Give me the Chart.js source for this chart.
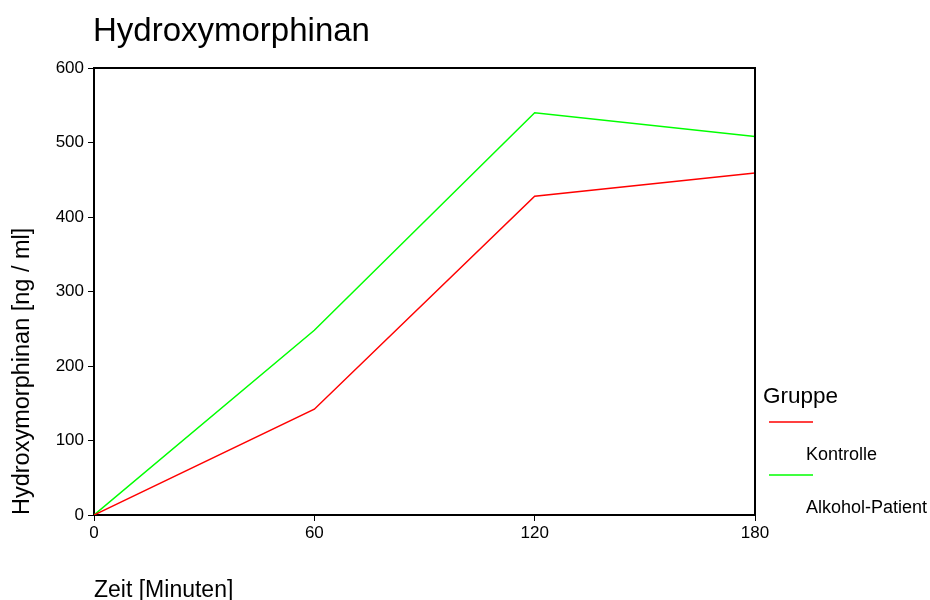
<!DOCTYPE html>
<html>
<head>
<meta charset="utf-8">
<script src="https://cdn.jsdelivr.net/npm/chart.js@4/dist/chart.umd.min.js"></script>
<style>
html,body{margin:0;padding:0;background:#fff;}
#wrap{width:930px;height:600px;}
</style>
</head>
<body>
<div id="wrap"><canvas id="c" width="930" height="600"></canvas></div>
<script>
const chartTitle = 'Hydroxymorphinan';
const xTitle = 'Zeit [Minuten]';
const yTitle = 'Hydroxymorphinan [ng / ml]';
const legendTitle = 'Gruppe';
const times = [0, 60, 120, 180];
const kontrolle = [0, 142, 428, 459];
const alkohol = [0, 248, 540, 508];
const seriesNames = ['Kontrolle', 'Alkohol-Patient'];
const seriesColors = ['#ff0000', '#00ff00'];

const FONT = '"Liberation Sans", Arial, sans-serif';

const toPts = (vals) => times.map((t, i) => ({x: t, y: vals[i]}));

const decor = {
  id: 'decor',
  afterDraw(chart) {
    const ctx = chart.ctx;
    const a = chart.chartArea;
    ctx.save();
    // frame top and right
    ctx.strokeStyle = '#000';
    ctx.lineWidth = 2;
    ctx.beginPath();
    ctx.moveTo(a.left, a.top);
    ctx.lineTo(a.right, a.top);
    ctx.lineTo(a.right, a.bottom);
    ctx.stroke();
    // title
    ctx.fillStyle = '#000';
    ctx.textBaseline = 'alphabetic';
    ctx.textAlign = 'left';
    ctx.font = '33px ' + FONT;
    ctx.fillText(chartTitle, a.left - 1, 41);
    // legend
    ctx.font = '22.5px ' + FONT;
    ctx.textBaseline = 'middle';
    ctx.fillText(legendTitle, 763, 397);
    ctx.font = '18px ' + FONT;
    chart.data.datasets.forEach((ds, i) => {
      const ly = 422 + i * 53;
      ctx.strokeStyle = ds.borderColor;
      ctx.lineWidth = 1.5;
      ctx.beginPath();
      ctx.moveTo(769, ly);
      ctx.lineTo(813, ly);
      ctx.stroke();
      ctx.fillStyle = '#000';
      ctx.fillText(ds.label, 806, ly + 33);
    });
    ctx.restore();
  }
};

new Chart(document.getElementById('c'), {
  type: 'line',
  data: {
    datasets: [
      {label: seriesNames[0], data: toPts(kontrolle), borderColor: seriesColors[0], backgroundColor: seriesColors[0], borderWidth: 1.5, pointRadius: 0, tension: 0, fill: false},
      {label: seriesNames[1], data: toPts(alkohol), borderColor: seriesColors[1], backgroundColor: seriesColors[1], borderWidth: 1.5, pointRadius: 0, tension: 0, fill: false}
    ]
  },
  options: {
    responsive: false,
    animation: false,
    layout: {padding: {left: 0, top: 68, right: 175, bottom: -4}},
    plugins: {legend: {display: false}, title: {display: false}, tooltip: {enabled: false}},
    scales: {
      x: {
        type: 'linear', min: 0, max: 180,
        afterFit(s) { s.height = 89; },
        ticks: {stepSize: 60, color: '#000', font: {family: FONT, size: 17}, padding: 2, maxRotation: 0},
        grid: {display: true, drawOnChartArea: false, drawTicks: true, tickLength: 6, color: '#000', lineWidth: 1},
        border: {display: true, color: '#000', width: 2},
        title: {display: true, text: xTitle, align: 'start', color: '#000', font: {family: FONT, size: 23}, padding: {top: 0, bottom: 0}}
      },
      y: {
        min: 0, max: 600,
        afterFit(s) { s.width = 94; },
        ticks: {stepSize: 100, color: '#000', font: {family: FONT, size: 17}, padding: 4},
        grid: {display: true, drawOnChartArea: false, drawTicks: true, tickLength: 6, color: '#000', lineWidth: 1},
        border: {display: true, color: '#000', width: 2},
        title: {display: true, text: yTitle, align: 'start', color: '#000', font: {family: FONT, size: 23.5}, padding: {top: 8, bottom: 0}}
      }
    }
  },
  plugins: [decor]
});
</script>
</body>
</html>
